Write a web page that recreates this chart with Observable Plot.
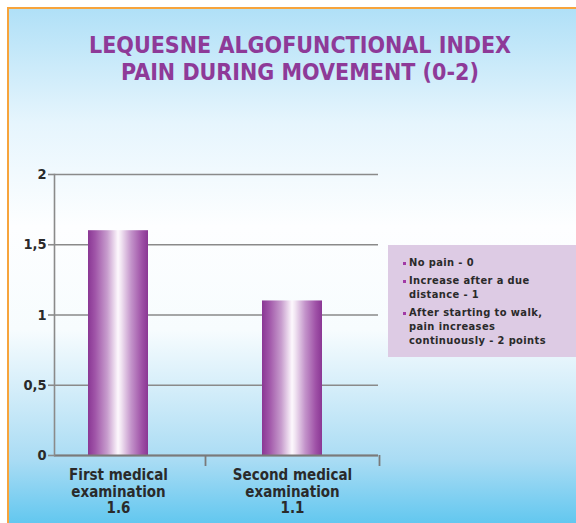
<!DOCTYPE html>
<html>
<head>
<meta charset="utf-8">
<script src="https://cdn.jsdelivr.net/npm/d3@7"></script>
<script src="https://cdn.jsdelivr.net/npm/@observablehq/plot@0.6"></script>
<style>
  html, body { margin: 0; padding: 0; background: #fff; }
  #wrap { position: relative; width: 576px; height: 523px; overflow: hidden; background: #fff; }
  #panel { position: absolute; left: 7px; top: 7px; right: -4px; bottom: -4px;
    border-left: 2px solid #f7a43c; border-top: 2px solid #f7a43c;
    background: linear-gradient(to bottom, #b0e0f7 0%, #e6f5fd 22%, #fdfeff 42%, #f7fcfe 62%, #aadcf4 87%, #5ec6ef 100%); }
  #title { position: absolute; left: 0; width: 600px; top: 32px; text-align: center;
    font-family: "Liberation Sans Narrow", "DejaVu Sans Condensed", "Liberation Sans", sans-serif;
    font-weight: bold; font-size: 23px; line-height: 27px; color: #8e3a98; }
  #chart { position: absolute; left: 0; top: 0; }
  #legend { position: absolute; left: 388px; top: 245px; width: 190px; height: 112px;
    background: #ddcbe4; font-family: "Liberation Sans Narrow", "DejaVu Sans Condensed", sans-serif;
    font-weight: bold; font-size: 11px; line-height: 14px; letter-spacing: 0.4px; color: #2a2a2a; }
  #legend ul { list-style: none; margin: 0; padding: 11px 0 0 21px; }
  #legend li { position: relative; margin-bottom: 4px; white-space: nowrap; }
  #legend li::before { content: ""; position: absolute; left: -6px; top: 6px; width: 3px; height: 3px; background: #a23aa6; }
</style>
</head>
<body>
<div id="wrap">
  <div id="panel"></div>
  <div id="title">LEQUESNE ALGOFUNCTIONAL INDEX<br>PAIN DURING MOVEMENT (0-2)</div>
  <div id="chart"></div>
  <div id="legend"><ul id="legendList"></ul></div>
</div>
<script>
const categories = ["First medical examination", "Second medical examination"];
const categoryLabels = ["First medical\nexamination\n1.6", "Second medical\nexamination\n1.1"];
const values = [1.6, 1.1];
const yTicks = [0, 0.5, 1, 1.5, 2];
const yTickLabels = ["0", "0,5", "1", "1,5", "2"];
const legendItems = [["No pain - 0"], ["Increase after a due", "distance - 1"], ["After starting to walk,", "pain increases", "continuously - 2 points"]];

const data = categories.map((c, i) => ({category: c, value: values[i]}));
const labelOf = new Map(categories.map((c, i) => [c, categoryLabels[i]]));
const yLabelOf = new Map(yTicks.map((t, i) => [t, yTickLabels[i]]));

const fontFam = "'Liberation Sans Narrow', 'DejaVu Sans Condensed', sans-serif";

const chart = Plot.plot({
  width: 576,
  height: 523,
  marginTop: 174,
  marginBottom: 68,
  marginLeft: 54,
  marginRight: 198,
  style: {background: "transparent", fontFamily: fontFam, overflow: "visible"},
  x: {domain: categories, paddingInner: 0.655, paddingOuter: 0.2585, align: 0.378, axis: null, label: null},
  y: {domain: [0, 2], axis: null, label: null},
  marks: [
    Plot.gridY(yTicks, {stroke: "#8a8a8a", strokeOpacity: 1, strokeWidth: 1.6}),
    Plot.barY(data, {x: "category", y: "value", fill: "url(#barGrad)"}),
    Plot.ruleY([0], {stroke: "#7a7a7a", strokeWidth: 1.8}),
    Plot.ruleX(categories, {x: d => d, y1: 0, y2: 0, dx: 87, insetBottom: -11, stroke: "#7a7a7a", strokeWidth: 1.8}),
    Plot.axisY(yTicks, {label: null, tickSize: 6, tickPadding: 2, stroke: "#8a8a8a", strokeWidth: 1.6,
      tickFormat: d => yLabelOf.get(d), fontSize: 14.5, fontWeight: "bold", fill: "#2a2a2a"}),
    Plot.frame({anchor: "left", stroke: "#8a8a8a", strokeWidth: 1.6}),
    Plot.axisX(categories, {label: null, tickSize: 0, tickPadding: 13, tickFormat: d => labelOf.get(d),
      fontSize: 15, fontWeight: "bold", fill: "#2a2a2a", lineHeight: 1.1})
  ]
});

// gradient definition for the bars
const svg = d3.select(chart);
const defs = svg.insert("defs", ":first-child");
const grad = defs.append("linearGradient").attr("id", "barGrad").attr("x1", "0").attr("x2", "1").attr("y1", "0").attr("y2", "0");
[[0, "#8a3794"], [0.12, "#a055a8"], [0.32, "#c79ccd"], [0.5, "#fdf8fd"], [0.55, "#f2e6f3"], [0.72, "#c393ca"], [0.9, "#9e50a6"], [1, "#8a3794"]]
  .forEach(([o, c]) => grad.append("stop").attr("offset", o).attr("stop-color", c));

document.getElementById("chart").appendChild(chart);

const ul = document.getElementById("legendList");
legendItems.forEach(lines => {
  const li = document.createElement("li");
  lines.forEach((t, i) => { if (i) li.appendChild(document.createElement("br")); li.appendChild(document.createTextNode(t)); });
  ul.appendChild(li);
});
</script>
</body>
</html>
